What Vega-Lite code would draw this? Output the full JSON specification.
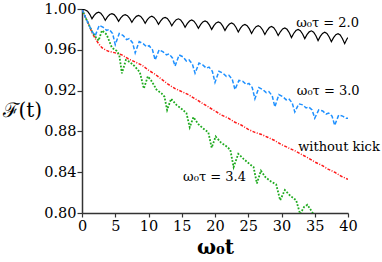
{
"$schema":"https://vega.github.io/schema/vega-lite/v6.json",
"width":266,"height":204,"autosize":"none",
"padding":{"left":82,"top":9,"right":34,"bottom":49},
"config":{"view":{"stroke":null},"axis":{"grid":false,"domainColor":"#333","tickColor":"#333","domainWidth":1.5,"tickWidth":1.2,"labelColor":"#000","titleColor":"#000","labelFont":"DejaVu Serif","titleFont":"DejaVu Serif","labelFontSize":14.5}},
"datasets":{
"black":[{"t":0,"f":1.0},{"t":0.5,"f":0.999},{"t":0.83,"f":0.9979},{"t":1.17,"f":0.9948},{"t":1.5,"f":0.9905},
{"t":1.83,"f":0.9937},{"t":2.17,"f":0.996},{"t":2.5,"f":0.9968},{"t":2.83,"f":0.9958},{"t":3.17,"f":0.9929},{"t":3.5,"f":0.989},
{"t":3.83,"f":0.9923},{"t":4.17,"f":0.9946},{"t":4.5,"f":0.9955},{"t":4.83,"f":0.9945},{"t":5.17,"f":0.9918},{"t":5.5,"f":0.988},
{"t":5.83,"f":0.9913},{"t":6.17,"f":0.9936},{"t":6.5,"f":0.9945},{"t":6.83,"f":0.9935},{"t":7.17,"f":0.9908},{"t":7.5,"f":0.987},
{"t":7.83,"f":0.9904},{"t":8.17,"f":0.9928},{"t":8.5,"f":0.9937},{"t":8.83,"f":0.9927},{"t":9.17,"f":0.9899},{"t":9.5,"f":0.986},
{"t":9.83,"f":0.9895},{"t":10.17,"f":0.992},{"t":10.5,"f":0.9929},{"t":10.83,"f":0.9918},{"t":11.17,"f":0.989},{"t":11.5,"f":0.985},
{"t":11.83,"f":0.9884},{"t":12.17,"f":0.9909},{"t":12.5,"f":0.9918},{"t":12.83,"f":0.9907},{"t":13.17,"f":0.9877},{"t":13.5,"f":0.9835},
{"t":13.83,"f":0.987},{"t":14.17,"f":0.9895},{"t":14.5,"f":0.9904},{"t":14.83,"f":0.9893},{"t":15.17,"f":0.9862},{"t":15.5,"f":0.982},
{"t":15.83,"f":0.9856},{"t":16.17,"f":0.9882},{"t":16.5,"f":0.9892},{"t":16.83,"f":0.9881},{"t":17.17,"f":0.9851},{"t":17.5,"f":0.981},
{"t":17.83,"f":0.9847},{"t":18.17,"f":0.9873},{"t":18.5,"f":0.9883},{"t":18.83,"f":0.9872},{"t":19.17,"f":0.9842},{"t":19.5,"f":0.98},
{"t":19.83,"f":0.9837},{"t":20.17,"f":0.9864},{"t":20.5,"f":0.9874},{"t":20.83,"f":0.9863},{"t":21.17,"f":0.9832},{"t":21.5,"f":0.979},
{"t":21.83,"f":0.9827},{"t":22.17,"f":0.9853},{"t":22.5,"f":0.9863},{"t":22.83,"f":0.9851},{"t":23.17,"f":0.9819},{"t":23.5,"f":0.9775},
{"t":23.83,"f":0.9812},{"t":24.17,"f":0.9839},{"t":24.5,"f":0.9849},{"t":24.83,"f":0.9837},{"t":25.17,"f":0.9805},{"t":25.5,"f":0.976},
{"t":25.83,"f":0.9799},{"t":26.17,"f":0.9827},{"t":26.5,"f":0.9837},{"t":26.83,"f":0.9825},{"t":27.17,"f":0.9794},{"t":27.5,"f":0.975},
{"t":27.83,"f":0.9789},{"t":28.17,"f":0.9818},{"t":28.5,"f":0.9828},{"t":28.83,"f":0.9816},{"t":29.17,"f":0.9784},{"t":29.5,"f":0.974},
{"t":29.83,"f":0.9777},{"t":30.17,"f":0.9804},{"t":30.5,"f":0.9814},{"t":30.83,"f":0.9801},{"t":31.17,"f":0.9767},{"t":31.5,"f":0.972},
{"t":31.83,"f":0.976},{"t":32.17,"f":0.9789},{"t":32.5,"f":0.98},{"t":32.83,"f":0.9788},{"t":33.17,"f":0.9755},{"t":33.5,"f":0.971},
{"t":33.83,"f":0.9748},{"t":34.17,"f":0.9776},{"t":34.5,"f":0.9786},{"t":34.83,"f":0.9773},{"t":35.17,"f":0.9738},{"t":35.5,"f":0.969},
{"t":35.83,"f":0.9731},{"t":36.17,"f":0.9761},{"t":36.5,"f":0.9772},{"t":36.83,"f":0.976},{"t":37.17,"f":0.9726},{"t":37.5,"f":0.968},
{"t":37.83,"f":0.9719},{"t":38.17,"f":0.9748},{"t":38.5,"f":0.9758},{"t":38.83,"f":0.9745},{"t":39.17,"f":0.9709},{"t":39.5,"f":0.966},
{"t":39.83,"f":0.9705},{"t":40,"f":0.972}],
"blue":[{"t":0,"f":1.0},{"t":0.5,"f":0.992},{"t":1.0,"f":0.985},{"t":1.5,"f":0.978},{"t":2.0,"f":0.974},
{"t":2.6,"f":0.984},{"t":3.2,"f":0.982},{"t":3.7,"f":0.979},{"t":4.1,"f":0.98},{"t":4.6,"f":0.976},
{"t":5,"f":0.965},{"t":5.6,"f":0.976},{"t":6.2,"f":0.974},{"t":6.7,"f":0.97},{"t":7.1,"f":0.971},{"t":7.6,"f":0.967},
{"t":8,"f":0.957},{"t":8.6,"f":0.968},{"t":9.2,"f":0.966},{"t":9.7,"f":0.963},{"t":10.1,"f":0.964},{"t":10.6,"f":0.96},
{"t":11,"f":0.95},{"t":11.6,"f":0.96},{"t":12.2,"f":0.958},{"t":12.7,"f":0.955},{"t":13.1,"f":0.956},{"t":13.6,"f":0.952},
{"t":14,"f":0.944},{"t":14.6,"f":0.955},{"t":15.2,"f":0.953},{"t":15.7,"f":0.949},{"t":16.1,"f":0.95},{"t":16.6,"f":0.946},
{"t":17,"f":0.937},{"t":17.6,"f":0.947},{"t":18.2,"f":0.945},{"t":18.7,"f":0.942},{"t":19.1,"f":0.943},{"t":19.6,"f":0.939},
{"t":20,"f":0.928},{"t":20.6,"f":0.939},{"t":21.2,"f":0.937},{"t":21.7,"f":0.934},{"t":22.1,"f":0.935},{"t":22.6,"f":0.931},
{"t":23,"f":0.921},{"t":23.6,"f":0.93},{"t":24.2,"f":0.929},{"t":24.7,"f":0.926},{"t":25.1,"f":0.927},{"t":25.6,"f":0.923},
{"t":26,"f":0.912},{"t":26.6,"f":0.923},{"t":27.2,"f":0.921},{"t":27.7,"f":0.918},{"t":28.1,"f":0.919},{"t":28.6,"f":0.915},
{"t":29,"f":0.904},{"t":29.6,"f":0.916},{"t":30.2,"f":0.914},{"t":30.7,"f":0.911},{"t":31.1,"f":0.912},{"t":31.6,"f":0.908},
{"t":32,"f":0.899},{"t":32.6,"f":0.907},{"t":33.2,"f":0.906},{"t":33.7,"f":0.903},{"t":34.1,"f":0.904},{"t":34.6,"f":0.901},
{"t":35,"f":0.893},{"t":35.6,"f":0.901},{"t":36.2,"f":0.9},{"t":36.7,"f":0.897},{"t":37.1,"f":0.898},{"t":37.6,"f":0.895},
{"t":38,"f":0.886},{"t":38.6,"f":0.896},{"t":39.2,"f":0.895},{"t":39.7,"f":0.893},{"t":40,"f":0.893}],
"red":[{"t":0,"f":1.0},{"t":0.5,"f":0.992},{"t":1,"f":0.985},{"t":1.5,"f":0.977},{"t":2,"f":0.971},{"t":2.5,"f":0.966},{"t":3,"f":0.962},{"t":3.5,"f":0.96},{"t":4,"f":0.9585},{"t":5,"f":0.957},{"t":6,"f":0.955},{"t":7,"f":0.951},{"t":8,"f":0.948},{"t":9,"f":0.945},{"t":10,"f":0.94},{"t":11,"f":0.936},{"t":12,"f":0.931},{"t":13,"f":0.926},{"t":14,"f":0.922},{"t":15,"f":0.919},{"t":16,"f":0.916},{"t":17,"f":0.912},{"t":18,"f":0.908},{"t":19,"f":0.904},{"t":20,"f":0.9},{"t":21,"f":0.896},{"t":22,"f":0.893},{"t":23,"f":0.889},{"t":24,"f":0.886},{"t":25,"f":0.882},{"t":26,"f":0.879},{"t":27,"f":0.877},{"t":28,"f":0.874},{"t":29,"f":0.871},{"t":30,"f":0.867},{"t":31,"f":0.864},{"t":32,"f":0.861},{"t":33,"f":0.8575},{"t":34,"f":0.854},{"t":35,"f":0.85},{"t":36,"f":0.847},{"t":37,"f":0.843},{"t":38,"f":0.84},{"t":39,"f":0.836},{"t":40,"f":0.833}],
"green":[{"t":0,"f":1.0},{"t":0.5,"f":0.992},{"t":1,"f":0.985},{"t":1.5,"f":0.978},{"t":2,"f":0.973},{"t":2.5,"f":0.969},{"t":3,"f":0.979},{"t":3.7,"f":0.975},{"t":4.5,"f":0.962},{"t":5.2,"f":0.959},{"t":5.6,"f":0.955},{"t":6,"f":0.937},{"t":6.6,"f":0.95},{"t":7.2,"f":0.948},{"t":7.9,"f":0.944},{"t":8.7,"f":0.938},{"t":9.3,"f":0.922},{"t":9.9,"f":0.934},{"t":10.5,"f":0.929},{"t":11.2,"f":0.921},{"t":12,"f":0.917},{"t":12.4,"f":0.914},{"t":12.8,"f":0.901},{"t":13.4,"f":0.912},{"t":14.2,"f":0.906},{"t":15,"f":0.902},{"t":15.7,"f":0.898},{"t":16.2,"f":0.884},{"t":16.75,"f":0.894},{"t":17.5,"f":0.887},{"t":18.2,"f":0.883},{"t":19,"f":0.879},{"t":19.5,"f":0.864},{"t":20.1,"f":0.875},{"t":20.9,"f":0.869},{"t":21.6,"f":0.866},{"t":22.3,"f":0.862},{"t":22.8,"f":0.845},{"t":23.5,"f":0.858},{"t":24.3,"f":0.853},{"t":25.2,"f":0.848},{"t":25.8,"f":0.845},{"t":26.3,"f":0.829},{"t":26.9,"f":0.8415},{"t":27.6,"f":0.835},{"t":28.4,"f":0.831},{"t":29.2,"f":0.828},{"t":29.8,"f":0.8125},{"t":30.5,"f":0.8225},{"t":31.3,"f":0.817},{"t":32.2,"f":0.8125},{"t":32.8,"f":0.799},{"t":33.4,"f":0.806},{"t":33.9,"f":0.808},{"t":34.8,"f":0.799}],
"labels":[{"l":"ω₀τ = 2.0","t":32.2,"f":0.9863},{"l":"ω₀τ = 3.0","t":32.3,"f":0.9196},{"l":"without kick","t":32.5,"f":0.8647},{"l":"ω₀τ = 3.4","t":15.2,"f":0.8353}]
},
"encoding":{
"x":{"field":"t","type":"quantitative","scale":{"domain":[0,40],"nice":false},"axis":{"values":[0,5,10,15,20,25,30,35,40],"title":"ω₀t","titleFontSize":20,"titleFontWeight":"bold","tickSize":4,"labelPadding":2,"titlePadding":5,"labelFlush":false}},
"y":{"field":"f","type":"quantitative","scale":{"domain":[0.8,1.0],"nice":false,"zero":false},"axis":{"values":[0.8,0.84,0.88,0.92,0.96,1.0],"format":".2f","title":"ℱ(t)","titleAngle":0,"titleAlign":"left","titleBaseline":"middle","titleX":-80,"titleY":101,"titleFontSize":20,"titleFontWeight":"normal","tickSize":5,"labelPadding":1}}
},
"layer":[
{"data":{"name":"red"},"mark":{"type":"line","color":"#ff1a1a","strokeWidth":1.5,"strokeDash":[3,1.5,1,1.5],"clip":true},"encoding":{}},
{"data":{"name":"green"},"mark":{"type":"line","color":"#1faa1f","strokeWidth":1.8,"strokeDash":[1.8,1.6],"clip":true},"encoding":{}},
{"data":{"name":"blue"},"mark":{"type":"line","color":"#1e90ff","strokeWidth":1.5,"strokeDash":[4,2],"clip":true},"encoding":{}},
{"data":{"name":"black"},"mark":{"type":"line","color":"#000","strokeWidth":1.2,"clip":true},"encoding":{}},
{"data":{"name":"labels"},"mark":{"type":"text","align":"left","baseline":"middle","font":"DejaVu Serif","fontSize":13,"color":"#000"},"encoding":{"text":{"field":"l"}}}
]
}
